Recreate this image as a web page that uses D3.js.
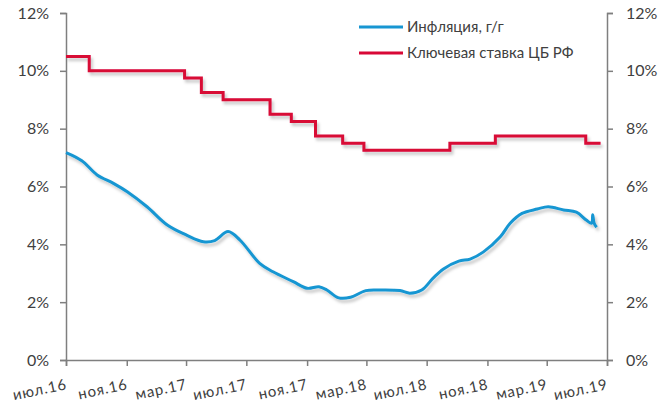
<!DOCTYPE html>
<html>
<head>
<meta charset="utf-8">
<script src="https://cdnjs.cloudflare.com/ajax/libs/d3/7.8.5/d3.min.js"></script>
<style>
  body { margin: 0; background: #fff; }
  text { font-family: Lato, "Open Sans", sans-serif; fill: #404040; }
</style>
</head>
<body>
<div id="chart_div"></div>
<script>
// key rate steps (dates)
var rateDates = ['2016-07-01', '2016-08-17', '2017-02-26', '2017-04-01', '2017-05-15',
  '2017-08-18', '2017-09-30', '2017-11-18', '2018-01-12', '2018-02-24',
  '2018-08-17', '2018-11-17', '2019-05-19', '2019-06-18'];
var rateValues = [10.5, 10.0, 9.75, 9.25, 9.0, 8.5, 8.25, 7.75, 7.5, 7.25, 7.5, 7.75, 7.5, 7.5];

// inflation y/y
var inflDates = ['2016-07-01', '2016-08-02', '2016-09-02', '2016-10-05', '2016-11-02',
  '2016-12-12', '2017-01-22', '2017-03-02', '2017-04-05', '2017-04-28', '2017-05-25',
  '2017-06-18', '2017-07-28', '2017-08-24', '2017-10-04', '2017-11-01', '2017-11-25',
  '2017-12-11', '2018-01-04', '2018-01-28', '2018-02-28', '2018-03-28', '2018-05-08',
  '2018-05-28', '2018-06-21', '2018-07-14', '2018-08-04', '2018-09-04', '2018-09-27',
  '2018-10-24', '2018-11-27', '2018-12-17', '2019-01-10', '2019-02-10', '2019-03-04',
  '2019-04-04', '2019-04-30', '2019-05-20', '2019-05-31', '2019-06-02', '2019-06-05',
  '2019-06-10'];
var inflValues = [7.17, 6.89, 6.40, 6.11, 5.82, 5.30, 4.67, 4.32, 4.09, 4.13, 4.44,
  4.15, 3.34, 3.05, 2.71, 2.48, 2.53, 2.42, 2.15, 2.17, 2.40, 2.42, 2.40, 2.31, 2.42,
  2.83, 3.15, 3.42, 3.49, 3.74, 4.26, 4.73, 5.07, 5.22, 5.30, 5.19, 5.11, 4.84, 4.73,
  5.02, 4.73, 4.59];

var tickDates = ['2016-07-01', '2016-11-01', '2017-03-01', '2017-07-01', '2017-11-01',
  '2018-03-01', '2018-07-01', '2018-11-01', '2019-03-01', '2019-07-01'];
var tickLabels = ['июл.16', 'ноя.16', 'мар.17', 'июл.17', 'ноя.17',
  'мар.18', 'июл.18', 'ноя.18', 'мар.19', 'июл.19'];
var yTicks = [0, 2, 4, 6, 8, 10, 12];

var svg_width = 658,
  svg_height = 407,
  margin = {top: 13, right: 51, bottom: 47, left: 66};

var parse = d3.timeParse('%Y-%m-%d');

var svg = d3.select('#chart_div')
  .append('svg')
  .attr('width', svg_width)
  .attr('height', svg_height);

// soft shadow under the lines
var filter = svg.append('defs').append('filter')
  .attr('id', 'shadow')
  .attr('x', '-5%').attr('y', '-20%')
  .attr('width', '110%').attr('height', '140%');
filter.append('feDropShadow')
  .attr('dx', 2).attr('dy', 3)
  .attr('stdDeviation', 1.8)
  .attr('flood-color', '#000')
  .attr('flood-opacity', 0.22);

var x = d3.scaleTime()
  .domain([parse('2016-07-01'), parse('2019-07-01')])
  .range([margin.left, svg_width - margin.right]);

var y = d3.scaleLinear()
  .domain([0, 12])
  .range([svg_height - margin.bottom, margin.top]);

// axes
var axisColor = '#7f7f7f';

var leftAxis = svg.append('g')
  .attr('transform', 'translate(' + margin.left + ',0)')
  .call(d3.axisLeft(y).tickValues(yTicks).tickSize(6).tickPadding(11)
    .tickFormat(function (d) { return d + '%'; }));

var rightAxis = svg.append('g')
  .attr('transform', 'translate(' + (svg_width - margin.right) + ',0)')
  .call(d3.axisRight(y).tickValues(yTicks).tickSize(6).tickPadding(13)
    .tickFormat(function (d) { return d + '%'; }));

var bottomAxis = svg.append('g')
  .attr('transform', 'translate(0,' + (svg_height - margin.bottom) + ')')
  .call(d3.axisBottom(x).tickValues(tickDates.map(parse)).tickSize(6)
    .tickFormat(function (d, i) { return tickLabels[i]; }));

[leftAxis, rightAxis, bottomAxis].forEach(function (a) {
  a.select('.domain').attr('stroke', axisColor).attr('stroke-width', 1.5);
  a.selectAll('.tick line').attr('stroke', axisColor).attr('stroke-width', 1.5);
  a.selectAll('text').style('font-size', '16px').attr('fill', '#404040');
});

bottomAxis.selectAll('text')
  .style('font-size', '15px')
  .style('letter-spacing', '0.8px')
  .attr('text-anchor', 'end')
  .attr('dy', null)
  .attr('y', 0)
  .attr('transform', 'translate(1,29) rotate(-12)');

// lines
var rateData = rateDates.map(function (d, i) { return {date: parse(d), value: rateValues[i]}; });
var inflData = inflDates.map(function (d, i) { return {date: parse(d), value: inflValues[i]}; });

var rateLine = d3.line()
  .x(function (d) { return x(d.date); })
  .y(function (d) { return y(d.value); })
  .curve(d3.curveStepAfter);

var inflLine = d3.line()
  .x(function (d) { return x(d.date); })
  .y(function (d) { return y(d.value); })
  .curve(d3.curveCatmullRom.alpha(0.5));

var blue = '#1796d2',
  red = '#d80836';

svg.append('path')
  .datum(rateData)
  .attr('d', rateLine)
  .attr('fill', 'none')
  .attr('stroke', red)
  .attr('stroke-width', 3)
  .attr('filter', 'url(#shadow)');

svg.append('path')
  .datum(inflData)
  .attr('d', inflLine)
  .attr('fill', 'none')
  .attr('stroke', blue)
  .attr('stroke-width', 3)
  .attr('stroke-linejoin', 'round')
  .attr('filter', 'url(#shadow)');

// legend
var legendItems = [
  {label: 'Инфляция, г/г', color: blue},
  {label: 'Ключевая ставка ЦБ РФ', color: red}
];
var legend = svg.append('g').classed('legend', true);
legendItems.forEach(function (d, i) {
  var ly = 27 + i * 26;
  legend.append('line')
    .attr('x1', 359).attr('x2', 403)
    .attr('y1', ly).attr('y2', ly)
    .attr('stroke', d.color)
    .attr('stroke-width', 3);
  legend.append('text')
    .attr('x', 407)
    .attr('y', ly + 5)
    .style('font-size', '15px')
    .text(d.label);
});
</script>
</body>
</html>
